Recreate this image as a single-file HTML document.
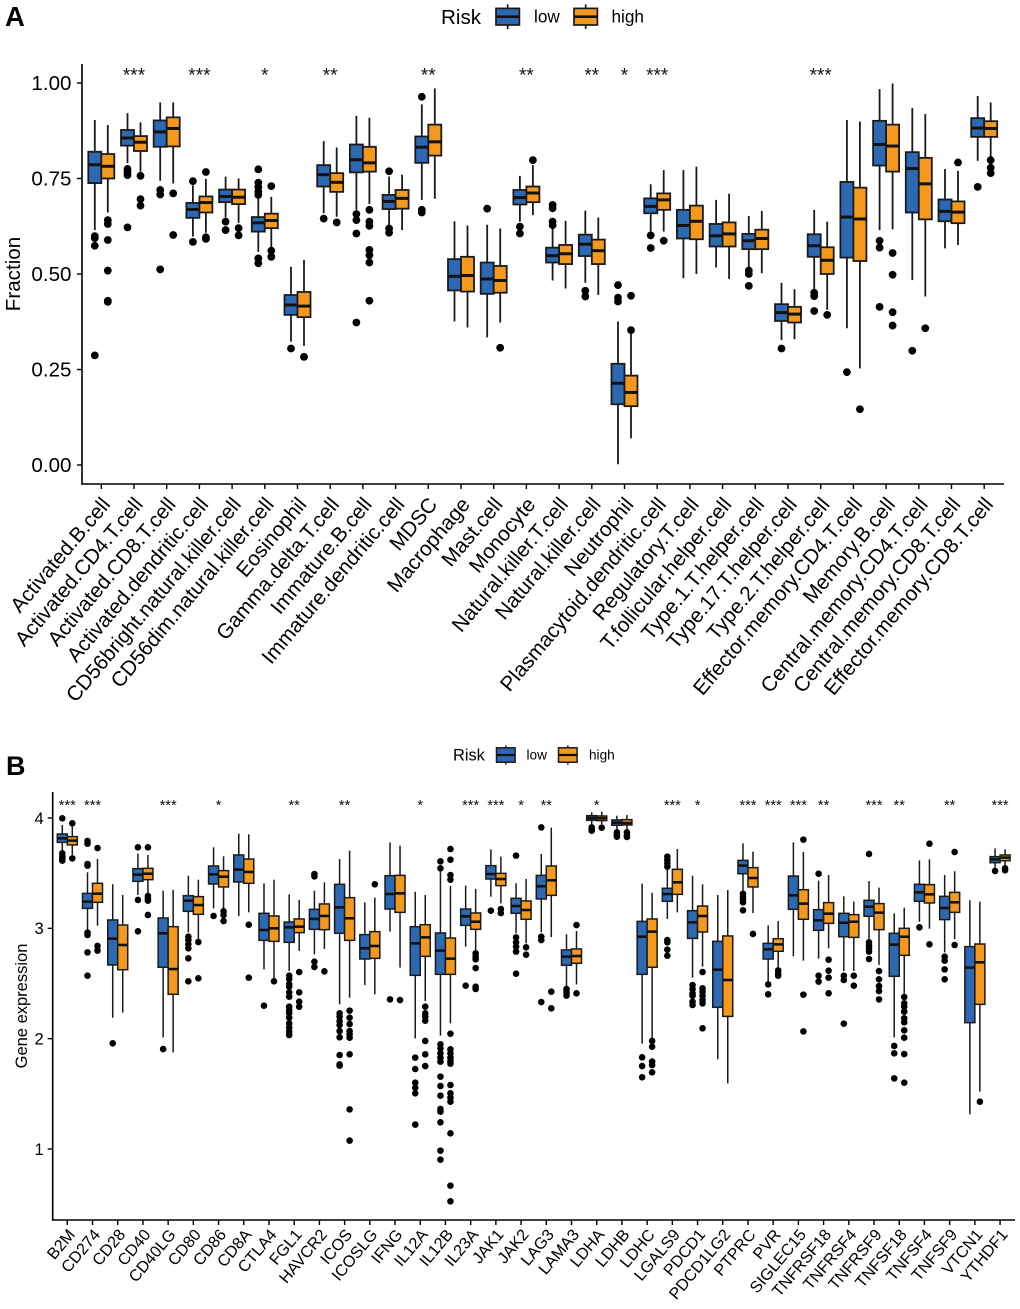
<!DOCTYPE html>
<html lang="en">
<head>
<meta charset="utf-8">
<title>Immune cell fraction and gene expression by risk group</title>
<style>
html,body{margin:0;padding:0;background:#fff;}
svg{display:block;font-family:"Liberation Sans",sans-serif;filter:blur(0.3px);}
</style>
</head>
<body>
<svg id="figure" xmlns="http://www.w3.org/2000/svg" width="1020" height="1309" viewBox="0 0 1020 1309">
<rect x="0" y="0" width="1020" height="1309" fill="#fff"/>
<text x="5" y="26" font-size="27.5" font-weight="bold" fill="#000">A</text>
<text x="6" y="775" font-size="27" font-weight="bold" fill="#000">B</text>
<text transform="translate(20,274) rotate(-90)" text-anchor="middle" font-size="20.6" fill="#000">Fraction</text>
<text transform="translate(27,1006) rotate(-90)" text-anchor="middle" font-size="16.5" fill="#000">Gene expression</text>
<g id="legend-a"></g>
<g id="legend-b"></g>
<g id="panel-a"></g>
<g id="panel-b"></g>
</svg>
<script>
// Each stats row: [whiskerHigh, q3, median, q1, whiskerLow]
const immuneCategories = ["Activated.B.cell","Activated.CD4.T.cell","Activated.CD8.T.cell","Activated.dendritic.cell","CD56bright.natural.killer.cell","CD56dim.natural.killer.cell","Eosinophil","Gamma.delta.T.cell","Immature.B.cell","Immature.dendritic.cell","MDSC","Macrophage","Mast.cell","Monocyte","Natural.killer.T.cell","Natural.killer.cell","Neutrophil","Plasmacytoid.dendritic.cell","Regulatory.T.cell","T.follicular.helper.cell","Type.1.T.helper.cell","Type.17.T.helper.cell","Type.2.T.helper.cell","Effector.memory.CD4.T.cell","Memory.B.cell","Central.memory.CD4.T.cell","Central.memory.CD8.T.cell","Effector.memory.CD8.T.cell"];
const immuneLowStats = [[.903,.820,.786,.738,.615],[.921,.877,.856,.836,.790],[.949,.902,.872,.833,.744],[.732,.686,.669,.647,.598],[.755,.721,.703,.688,.648],[.702,.649,.634,.611,.558],[.519,.445,.419,.393,.323],[.848,.785,.760,.729,.659],[.914,.839,.799,.766,.668],[.755,.707,.690,.670,.624],[.944,.860,.832,.791,.694],[.638,.539,.494,.457,.376],[.629,.530,.487,.448,.334],[.757,.720,.700,.682,.637],[.624,.569,.548,.530,.483],[.666,.603,.578,.547,.477],[.376,.265,.214,.159,.002],[.735,.698,.677,.659,.611],[.772,.668,.627,.593,.489],[.694,.631,.600,.572,.517],[.652,.605,.587,.565,.517],[.477,.421,.399,.377,.327],[.668,.604,.574,.545,.458],[.903,.741,.649,.543,.358],[.984,.901,.839,.784,.615],[.935,.819,.776,.661,.484],[.775,.695,.664,.638,.567],[.966,.908,.882,.859,.796]];
const immuneHighStats = [[.890,.814,.782,.750,.661],[.897,.861,.845,.822,.768],[.949,.910,.881,.834,.737],[.749,.703,.687,.661,.608],[.750,.721,.701,.683,.634],[.702,.658,.640,.620,.567],[.537,.453,.416,.387,.312],[.831,.764,.740,.715,.650],[.909,.833,.791,.768,.683],[.760,.720,.698,.671,.615],[.986,.891,.846,.810,.697],[.627,.545,.496,.454,.360],[.619,.521,.483,.451,.373],[.785,.729,.712,.688,.654],[.639,.576,.553,.526,.462],[.648,.590,.561,.526,.445],[.345,.234,.190,.154,.070],[.772,.711,.694,.668,.611],[.781,.679,.638,.591,.500],[.710,.635,.605,.572,.487],[.665,.616,.593,.565,.502],[.460,.414,.395,.373,.329],[.637,.570,.536,.500,.406],[.899,.726,.644,.534,.253],[.999,.891,.835,.768,.617],[.919,.804,.736,.643,.441],[.770,.690,.662,.633,.576],[.949,.900,.881,.859,.807]];
const immuneLowOutliers = [[.599,.594,.574,.287],[.775,.768,.759,.622],[.720,.708,.512],[.743,.584],[.637,.615],[.774,.739,.727,.716,.707,.541,.528],[.305],[.645],[.657,.641,.606,.373],[.769,.619,.608],[.964,.668,.661],[],[.671],[.624,.606],[.681,.672,.637,.628],[.456,.441],[.471,.438,.428],[.601,.568],[],[],[.509,.500,.469],[.305],[.451,.442,.403],[.243],[.587,.569,.414],[.299],[],[.728]];
const immuneHighOutliers = [[.641,.631,.589,.509,.430,.427],[.757,.696,.679],[.711,.602],[.767,.596,.592],[.620,.601],[.730,.561,.545],[.283],[.635],[.668,.637,.626,.563,.549,.530,.430],[],[],[],[.307],[.798],[],[],[.443,.353],[.587],[],[],[],[],[.393],[.146],[.555,.498,.400,.365],[.358],[.792],[.798,.778,.764]];
const immuneSignificance = ["","***","","***","","*","","**","","","**","","","**","","**","*","***","","","","","***","","","","",""];
const immuneYTicks = [0,0.25,0.5,0.75,1];
const immuneYTickLabels = ["0.00","0.25","0.50","0.75","1.00"];

const geneCategories = ["B2M","CD274","CD28","CD40","CD40LG","CD80","CD86","CD8A","CTLA4","FGL1","HAVCR2","ICOS","ICOSLG","IFNG","IL12A","IL12B","IL23A","JAK1","JAK2","LAG3","LAMA3","LDHA","LDHB","LDHC","LGALS9","PDCD1","PDCD1LG2","PTPRC","PVR","SIGLEC15","TNFRSF18","TNFRSF4","TNFRSF9","TNFSF18","TNFSF4","TNFSF9","VTCN1","YTHDF1"];
const geneLowStats = [[3.937,3.855,3.816,3.779,3.701],[3.508,3.317,3.242,3.181,2.985],[3.399,3.076,2.906,2.668,2.190],[3.677,3.541,3.486,3.426,3.302],[3.341,3.094,2.955,2.647,2.012],[3.477,3.296,3.251,3.154,2.964],[3.734,3.565,3.489,3.402,3.181],[3.858,3.665,3.532,3.420,3.112],[3.408,3.136,2.985,2.891,2.628],[3.308,3.057,3.009,2.873,2.613],[3.341,3.172,3.085,2.991,2.764],[3.628,3.399,3.190,2.955,2.311],[3.236,2.943,2.819,2.722,2.486],[3.779,3.477,3.311,3.175,2.970],[3.332,3.015,2.864,2.574,2.003],[3.520,2.958,2.798,2.583,2.027],[3.387,3.175,3.109,3.027,2.834],[3.716,3.568,3.492,3.447,3.287],[3.408,3.272,3.202,3.136,2.955],[3.674,3.480,3.381,3.266,2.964],[2.946,2.804,2.743,2.665,2.474],[4.051,4.021,4.000,3.979,3.943],[4.021,3.982,3.958,3.934,3.900],[3.405,3.063,2.924,2.583,1.955],[3.544,3.363,3.311,3.245,3.085],[3.477,3.160,3.054,2.909,2.553],[3.302,2.882,2.625,2.284,1.813],[3.770,3.616,3.568,3.495,3.344],[3.027,2.864,2.810,2.722,2.517],[3.779,3.474,3.299,3.172,2.746],[3.432,3.169,3.073,2.982,2.725],[3.290,3.136,3.051,2.924,2.613],[3.429,3.254,3.196,3.109,2.894],[3.136,2.955,2.852,2.565,2.012],[3.616,3.399,3.326,3.245,3.060],[3.483,3.290,3.184,3.079,2.782],[3.254,2.834,2.644,2.145,1.314],[3.725,3.650,3.625,3.595,3.550]];
const geneHighStats = [[3.921,3.831,3.795,3.756,3.665],[3.628,3.408,3.314,3.236,3.024],[3.302,3.030,2.849,2.625,2.236],[3.665,3.544,3.495,3.441,3.317],[3.350,3.015,2.631,2.402,1.876],[3.441,3.287,3.211,3.127,2.903],[3.653,3.523,3.468,3.375,3.175],[3.852,3.628,3.511,3.408,3.145],[3.441,3.112,3.000,2.882,2.532],[3.257,3.085,3.015,2.961,2.795],[3.417,3.221,3.112,2.988,2.813],[3.704,3.278,3.091,2.891,2.372],[3.278,2.970,2.840,2.728,2.402],[3.749,3.480,3.317,3.145,2.644],[3.302,3.033,2.918,2.746,2.341],[3.384,2.912,2.725,2.583,2.139],[3.356,3.139,3.060,2.991,2.795],[3.650,3.498,3.447,3.387,3.227],[3.447,3.248,3.166,3.082,2.864],[3.912,3.565,3.435,3.299,2.921],[2.976,2.813,2.749,2.683,2.492],[4.057,4.018,3.997,3.976,3.943],[4.027,3.985,3.955,3.937,3.900],[3.323,3.085,2.970,2.647,2.003],[3.719,3.535,3.417,3.308,3.145],[3.399,3.202,3.112,2.967,2.653],[3.347,2.931,2.532,2.202,1.595],[3.695,3.550,3.456,3.375,3.139],[3.066,2.906,2.855,2.792,2.637],[3.692,3.350,3.224,3.082,2.707],[3.483,3.233,3.133,3.045,2.819],[3.242,3.124,3.060,2.918,2.613],[3.369,3.224,3.142,2.988,2.668],[3.187,3.000,2.924,2.755,2.411],[3.625,3.396,3.308,3.230,2.997],[3.517,3.326,3.236,3.145,2.903],[3.242,2.858,2.692,2.311,1.520],[3.716,3.665,3.641,3.613,3.565]];
const geneLowOutliers = [[3.997,3.680,3.650,3.628,3.613],[3.792,3.767,3.583,3.568,2.961,2.940,2.782,2.571],[1.958],[3.734,3.257,2.973],[1.906],[2.924,2.894,2.855,2.819,2.728,2.520],[3.112],[],[2.299],[2.571,2.541,2.495,2.471,2.420,2.381,2.290,2.260,2.230,2.190,2.139,2.100,2.063,2.033],[3.492,3.471,2.698,2.650],[2.230,2.199,2.160,2.124,2.069,2.012,1.852,1.767,1.755],[],[2.356],[1.828,1.725,1.601,1.556,1.505,1.221],[3.607,3.544,1.949,1.912,1.867,1.828,1.792,1.656,1.571,1.483,1.363,1.338,1.242,0.985,0.903],[2.480],[3.160],[3.659,2.918,2.873,2.834,2.789,2.589],[3.915,2.924,2.894,2.332],[2.450,2.420,2.390],[3.915,3.900,3.885],[3.870,3.852,3.831],[1.831,1.752,1.650],[3.650,3.619,3.589,3.559,2.894,2.873,2.807,2.752],[2.486,2.450,2.411,2.390,2.335,2.305],[],[3.314,3.287,3.263,3.236,3.163],[2.492,2.402],[],[3.495,2.571,2.517],[2.571,2.532,2.136],[3.674,2.873,2.843,2.819,2.789,2.722],[1.934,1.867,1.640],[3.009],[2.743,2.707,2.628,2.538],[],[3.520]];
const geneHighOutliers = [[3.952,3.634],[3.728,2.840,2.798],[],[3.734,3.293,3.272,3.251,3.121],[],[2.876,2.547],[3.154,3.121,3.066],[3.033,2.553],[2.520],[2.604,2.420,2.335,2.290],[2.610],[2.254,2.190,2.133,2.069,2.039,2.009,1.858,1.359,1.076],[3.399],[2.350],[2.290,2.230,2.199,2.163,1.979,1.858,1.752],[3.719,3.622,3.483,3.441,2.045,1.903,1.867,1.828,1.798,1.773,1.580,1.505,1.465,1.429,1.142,0.668,0.526],[2.773,2.743,2.719,2.640,2.471,2.450],[3.175,3.139],[2.828,2.761],[2.426,2.275],[3.030,2.411],[3.912],[3.870,3.846,3.828],[1.979,1.927,1.792,1.761,1.695],[],[2.604,2.456,2.426,2.390,2.350,2.320,2.094],[],[2.949],[2.619,2.592,2.571],[3.804,2.399,2.066],[2.716,2.616,2.553,2.411],[2.571,2.480],[2.613,2.538,2.477,2.432,2.356],[2.378,2.320,2.290,2.245,2.184,2.148,2.076,2.009,1.861,1.601],[3.767,2.855],[3.692,2.849],[1.429],[3.544,3.526]];
const geneSignificance = ["***","***","","","***","","*","","","**","","**","","","*","","***","***","*","**","","*","","","***","*","","***","***","***","**","","***","**","","**","","***"];
const geneYTicks = [1,2,3,4];
const geneYTickLabels = ["1","2","3","4"];

const groupNames = ["low","high"];
const groupFills = ["#2c69b2","#f5991e"];
const INK = "#1a1a1a";
const NS = "http://www.w3.org/2000/svg";

function make(parent, tag, attrs, text) {
  const el = document.createElementNS(NS, tag);
  for (const key in attrs) el.setAttribute(key, attrs[key]);
  if (text !== undefined) el.textContent = text;
  parent.appendChild(el);
  return el;
}

function drawBox(parent, cfg, stats, outliers, groupIndex, i) {
  const xc = cfg.x(i) + (groupIndex === 0 ? -cfg.offset : cfg.offset);
  const g = make(parent, "g", {});
  
  
  const s = stats[i];
  const whisker = make(g, "line", {x1:xc, x2:xc, y1:cfg.y(s[0]), y2:cfg.y(s[4]), stroke:INK, "stroke-width":cfg.lineWidth});
  
  
  const box = make(g, "rect", {x:xc-cfg.boxWidth/2, y:cfg.y(s[1]), width:cfg.boxWidth, height:cfg.y(s[3])-cfg.y(s[1]), fill:groupFills[groupIndex], stroke:INK, "stroke-width":cfg.lineWidth});
  
  
  const median = make(g, "line", {x1:xc-cfg.boxWidth/2, x2:xc+cfg.boxWidth/2, y1:cfg.y(s[2]), y2:cfg.y(s[2]), stroke:"#111", "stroke-width":cfg.medianWidth});
  
  
  outliers[i].forEach(function (v) {
    const dot = make(g, "circle", {cx:xc, cy:cfg.y(v), r:cfg.outlierRadius, fill:"#000"});
    
    
  });
}

function drawPanel(parent, cfg) {
  const yAxis = make(parent, "line", {x1:cfg.left, x2:cfg.left, y1:cfg.top, y2:cfg.bottom+0.7, stroke:"#000", "stroke-width":1.6});
  
  
  const xAxis = make(parent, "line", {x1:cfg.left-0.7, x2:cfg.right, y1:cfg.bottom, y2:cfg.bottom, stroke:"#000", "stroke-width":1.6});
  
  
  cfg.yTicks.forEach(function (v, k) {
    const tick = make(parent, "line", {x1:cfg.left-5, x2:cfg.left, y1:cfg.y(v), y2:cfg.y(v), stroke:"#000", "stroke-width":1.4});
    
    
    const label = make(parent, "text", {x:cfg.left-cfg.yLabelGap, y:cfg.y(v)+cfg.yFont*0.35, "text-anchor":"end", "font-size":cfg.yFont, fill:"#000"}, cfg.yLabels[k]);
    
    
  });
  cfg.categories.forEach(function (name, i) {
    const tick = make(parent, "line", {x1:cfg.x(i), x2:cfg.x(i), y1:cfg.bottom, y2:cfg.bottom+5, stroke:"#000", "stroke-width":1.4});
    
    
    const lx = cfg.x(i) + cfg.labelDx;
    const label = make(parent, "text", {transform:"translate(" + lx + "," + cfg.labelY + ") rotate(-50)", "text-anchor":"end", "font-size":cfg.xFont, fill:"#000"}, name);
    
    
    drawBox(parent, cfg, cfg.lowStats, cfg.lowOutliers, 0, i);
    drawBox(parent, cfg, cfg.highStats, cfg.highOutliers, 1, i);
    if (cfg.significance[i]) {
      const star = make(parent, "text", {x:cfg.x(i), y:cfg.starY, "text-anchor":"middle", "font-size":cfg.starFont, fill:"#111"}, cfg.significance[i]);
      
      
    }
  });
}

function drawLegend(parent, cfg) {
  const title = make(parent, "text", {x:cfg.titleX, y:cfg.cy+cfg.titleFont*0.35, "font-size":cfg.titleFont, fill:"#000"}, "Risk");
  
  
  groupNames.forEach(function (name, k) {
    const x = cfg.keyX[k];
    const stem = make(parent, "line", {x1:x+cfg.keyW/2, x2:x+cfg.keyW/2, y1:cfg.cy-cfg.stemH, y2:cfg.cy+cfg.stemH, stroke:INK, "stroke-width":cfg.line});
    
    
    const rect = make(parent, "rect", {x:x, y:cfg.cy-cfg.keyH/2, width:cfg.keyW, height:cfg.keyH, fill:groupFills[k], stroke:INK, "stroke-width":cfg.line});
    
    
    const mid = make(parent, "line", {x1:x, x2:x+cfg.keyW, y1:cfg.cy, y2:cfg.cy, stroke:"#111", "stroke-width":cfg.line*1.5});
    
    
    const label = make(parent, "text", {x:cfg.labelX[k], y:cfg.cy+cfg.labelFont*0.33, "font-size":cfg.labelFont, fill:"#000"}, name);
    
    
  });
}

drawPanel(document.getElementById("panel-a"), {
  categories: immuneCategories, lowStats: immuneLowStats, highStats: immuneHighStats,
  lowOutliers: immuneLowOutliers, highOutliers: immuneHighOutliers, significance: immuneSignificance,
  yTicks: immuneYTicks, yLabels: immuneYTickLabels,
  x: function (i) { return 101.3 + 32.7 * i; },
  y: function (v) { return 465 - 382 * v; },
  left: 82, right: 1004, top: 64, bottom: 484,
  offset: 6.5, boxWidth: 13, lineWidth: 1.8, medianWidth: 3, outlierRadius: 3.9,
  yFont: 20.6, yLabelGap: 10.5, xFont: 20.8, labelDx: 10, labelY: 505,
  starFont: 19, starY: 81.5
});
drawPanel(document.getElementById("panel-b"), {
  categories: geneCategories, lowStats: geneLowStats, highStats: geneHighStats,
  lowOutliers: geneLowOutliers, highOutliers: geneHighOutliers, significance: geneSignificance,
  yTicks: geneYTicks, yLabels: geneYTickLabels,
  x: function (i) { return 67.3 + 25.21 * i; },
  y: function (v) { return 818 + 110.33 * (4 - v); },
  left: 52.7, right: 1015, top: 792, bottom: 1220,
  offset: 5, boxWidth: 10, lineWidth: 1.5, medianWidth: 2.6, outlierRadius: 3.3,
  yFont: 16.6, yLabelGap: 9, xFont: 16.2, labelDx: 8.5, labelY: 1235,
  starFont: 14.6, starY: 810
});
drawLegend(document.getElementById("legend-a"), {
  titleX: 441, titleFont: 20.6, cy: 16.7, keyX: [496, 574], keyW: 23.4, keyH: 16.6, stemH: 12.3,
  labelX: [534, 611.5], labelFont: 17.2, line: 1.7
});
drawLegend(document.getElementById("legend-b"), {
  titleX: 453, titleFont: 16.4, cy: 755, keyX: [496.5, 558.5], keyW: 18.6, keyH: 14.4, stemH: 9.6,
  labelX: [526.5, 589], labelFont: 13.6, line: 1.5
});
</script>
</body>
</html>
